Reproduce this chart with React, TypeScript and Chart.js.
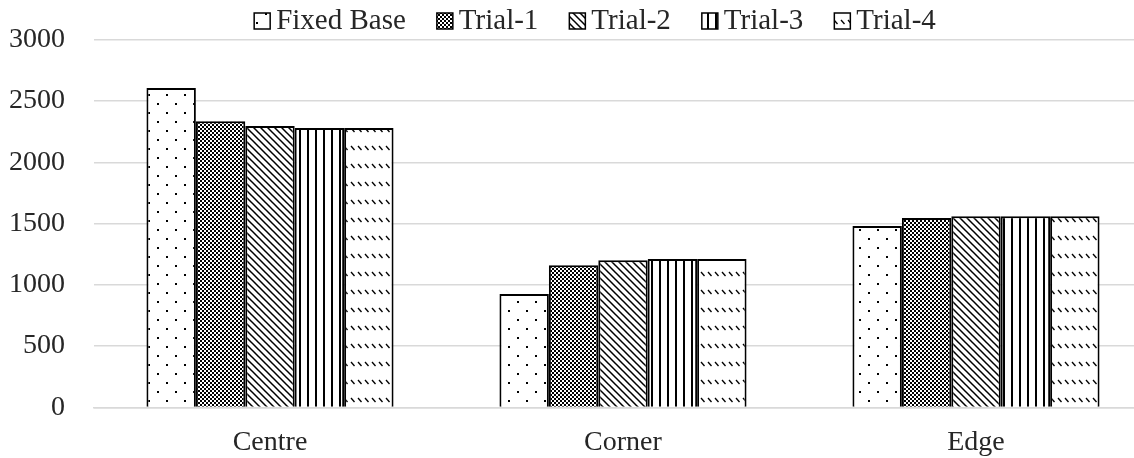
import { useEffect, useRef } from "react";
import { Chart, registerables } from "chart.js";

Chart.register(...registerables);

const categories = ["Centre", "Corner", "Edge"];
const seriesNames = ["Fixed Base", "Trial-1", "Trial-2", "Trial-3", "Trial-4"];
const fixedBase = [2605, 925, 1480];
const trial1 = [2335, 1160, 1545];
const trial2 = [2295, 1200, 1560];
const trial3 = [2280, 1210, 1560];
const trial4 = [2280, 1210, 1560];
const yTicks = [0, 500, 1000, 1500, 2000, 2500, 3000];

const FONT = '"Liberation Serif", "Times New Roman", serif';

// small repeating tiles for the black & white hatch fills
function makePattern(w: number, h: number, draw: (c: CanvasRenderingContext2D) => void) {
  const cv = document.createElement("canvas");
  cv.width = w;
  cv.height = h;
  const c = cv.getContext("2d")!;
  c.fillStyle = "#fff";
  c.fillRect(0, 0, w, h);
  c.fillStyle = "#000";
  c.strokeStyle = "#000";
  draw(c);
  return c.createPattern(cv, "repeat")!;
}

function buildPatterns() {
  const dots = makePattern(18, 18, (c) => {
    c.fillRect(4, 4, 2, 2);
    c.fillRect(13, 13, 2, 2);
  });
  const checker = makePattern(4, 4, (c) => {
    c.fillRect(0, 0, 2, 2);
    c.fillRect(2, 2, 2, 2);
  });
  const diagonal = makePattern(7, 7, (c) => {
    c.lineWidth = 1.5;
    c.beginPath();
    for (const k of [-1, 0, 1]) {
      c.moveTo(k * 7 - 1, -1);
      c.lineTo(k * 7 + 8, 8);
    }
    c.stroke();
  });
  const vertical = makePattern(8, 8, (c) => {
    c.fillRect(3, 0, 2, 8);
  });
  const dashes = makePattern(7, 18, (c) => {
    c.lineWidth = 1.3;
    c.beginPath();
    c.moveTo(1, 2);
    c.lineTo(4.5, 6);
    c.stroke();
  });
  return [dots, checker, diagonal, vertical, dashes];
}

const patternLegend = {
  id: "patternLegend",
  afterDraw(chart: any) {
    const ctx: CanvasRenderingContext2D = chart.ctx;
    const box = 16;
    const gap = 6;
    const itemGap = 31;
    ctx.save();
    ctx.font = `29px ${FONT}`;
    const items = chart.data.datasets.map((ds: any) => ({
      label: ds.label,
      fill: ds.backgroundColor,
      w: box + gap + ctx.measureText(ds.label).width,
    }));
    const total = items.reduce((s: number, it: any) => s + it.w, 0) + itemGap * (items.length - 1);
    let x = chart.width / 2 + 15 - total / 2;
    const top = 13;
    for (const it of items) {
      ctx.fillStyle = it.fill;
      ctx.fillRect(x, top, box, box);
      ctx.lineWidth = 1.5;
      ctx.strokeStyle = "#000";
      ctx.strokeRect(x, top, box, box);
      ctx.fillStyle = "#262626";
      ctx.textBaseline = "alphabetic";
      ctx.textAlign = "left";
      ctx.fillText(it.label, x + box + gap, 29);
      x += it.w + itemGap;
    }
    ctx.restore();
  },
};

export default function App() {
  const chartRef = useRef<HTMLCanvasElement>(null);
  const chartInstance = useRef<Chart | null>(null);

  useEffect(() => {
    if (!chartRef.current) return;
    if (chartInstance.current) chartInstance.current.destroy();

    const patterns = buildPatterns();
    const values = [fixedBase, trial1, trial2, trial3, trial4];

    chartInstance.current = new Chart(chartRef.current, {
      type: "bar",
      data: {
        labels: categories,
        datasets: seriesNames.map((name, i) => ({
          label: name,
          data: values[i],
          backgroundColor: patterns[i] as any,
          borderColor: "#000",
          borderWidth: 2,
          barPercentage: 1,
          categoryPercentage: 0.7,
        })),
      },
      options: {
        animation: false,
        responsive: true,
        maintainAspectRatio: false,
        layout: {
          // tick padding is counted twice by the scale fit, hence the negatives
          padding: { left: -19.5, right: 7.5, top: 10, bottom: -19 },
        },
        scales: {
          x: {
            grid: { display: false, drawTicks: false },
            border: { color: "#d9d9d9", width: 1.5 },
            ticks: {
              color: "#262626",
              padding: 18,
              font: { family: FONT, size: 28 },
            },
          },
          y: {
            min: 0,
            max: 3000,
            afterBuildTicks: (scale: any) => {
              scale.ticks = yTicks.map((v) => ({ value: v }));
            },
            grid: { color: "#d9d9d9", lineWidth: 1.5, drawTicks: false },
            border: { display: false },
            ticks: {
              color: "#262626",
              padding: 28.5,
              font: { family: FONT, size: 28, lineHeight: 0.8 },
              callback: (v: any) => String(v),
            },
          },
        },
        plugins: {
          legend: { display: false },
          tooltip: { enabled: false },
        },
      },
      plugins: [patternLegend],
    });

    return () => {
      if (chartInstance.current) {
        chartInstance.current.destroy();
        chartInstance.current = null;
      }
    };
  }, []);

  return (
    <div
      style={{
        position: "fixed",
        left: 0,
        top: 0,
        width: 1134,
        height: 458,
        overflow: "hidden",
        background: "#fff",
      }}
    >
      <div style={{ position: "relative", width: 1160, height: 458 }}>
        <canvas ref={chartRef} />
      </div>
    </div>
  );
}
